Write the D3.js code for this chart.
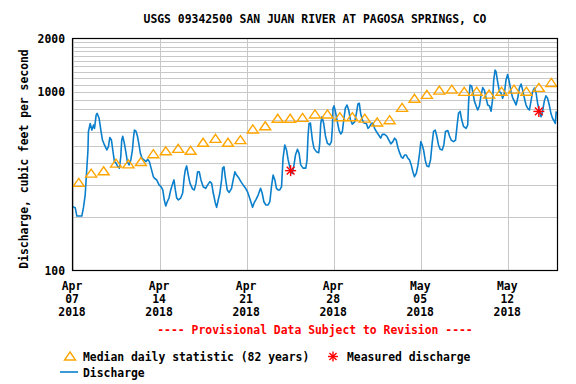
<!DOCTYPE html>
<html>
<head>
<meta charset="utf-8">
<script src="https://cdn.jsdelivr.net/npm/d3@7"></script>
<style>
  body { margin: 0; background: #fff; }
  svg text { font-family: "DejaVu Sans Mono", monospace; font-weight: bold; font-size: 11.4px; fill: #000; }
</style>
</head>
<body>
<div id="chart"></div>
<script>
// days since 2018-04-07 00:00, discharge in cfs
const dischargeReadings = [
  [0.03,228],[0.22,225],[0.35,202],[0.75,202],[0.88,225],[1.02,265],[1.16,382],[1.24,468],[1.28,600],[1.42,667],
  [1.56,613],[1.69,654],[1.77,627],[1.90,744],[1.98,761],[2.14,714],[2.28,613],[2.41,539],[2.57,506],[2.76,474],
  [2.89,495],[3.00,557],[3.13,539],[3.24,474],[3.37,408],[3.51,400],[3.64,382],[3.77,375],[3.88,434],[3.96,539],
  [4.04,566],[4.17,516],[4.31,454],[4.41,408],[4.55,391],[4.69,417],[4.82,474],[4.90,552],[4.98,613],[5.09,607],
  [5.22,568],[5.33,516],[5.46,454],[5.59,426],[5.75,417],[5.91,408],[6.05,420],[6.18,408],[6.32,375],[6.50,336],
  [6.64,327],[6.77,322],[6.96,302],[7.12,295],[7.26,283],[7.38,249],[7.50,230],[7.62,243],[7.76,255],[7.90,283],
  [8.06,308],[8.16,322],[8.27,283],[8.38,255],[8.51,249],[8.70,255],[8.86,272],[8.99,336],[9.07,366],[9.18,386],
  [9.31,343],[9.45,308],[9.66,286],[9.79,283],[9.93,308],[10.06,358],[10.19,358],[10.33,322],[10.51,295],[10.71,289],
  [10.87,302],[11.05,315],[11.19,308],[11.32,272],[11.48,240],[11.59,226],[11.72,249],[11.85,272],[11.99,322],[12.07,375],
  [12.18,382],[12.28,336],[12.44,283],[12.60,274],[12.79,289],[12.92,322],[13.06,358],[13.19,343],[13.38,330],[13.54,315],
  [13.72,302],[13.92,289],[14.08,276],[14.21,259],[14.34,243],[14.48,226],[14.61,240],[14.74,249],[14.93,265],[15.12,289],
  [15.25,272],[15.39,243],[15.55,233],[15.73,233],[15.87,243],[16.00,295],[16.13,343],[16.27,322],[16.40,289],[16.53,283],
  [16.67,283],[16.81,295],[16.93,426],[17.07,506],[17.21,474],[17.34,417],[17.47,382],[17.66,350],[17.79,382],[17.93,444],
  [18.09,478],[18.22,454],[18.35,391],[18.54,375],[18.76,375],[18.86,417],[18.94,568],[19.02,667],[19.13,672],[19.29,539],
  [19.42,484],[19.61,464],[19.80,458],[19.88,516],[19.96,667],[20.06,728],[20.20,667],[20.34,568],[20.50,516],[20.68,506],
  [20.82,528],[20.90,640],[20.95,813],[21.03,838],[21.14,780],[21.27,698],[21.43,613],[21.57,583],[21.70,602],[21.81,698],
  [21.94,813],[22.07,847],[22.21,794],[22.34,705],[22.50,662],[22.69,682],[22.83,761],[22.95,858],[23.06,867],[23.17,761],
  [23.31,698],[23.43,672],[23.63,667],[23.76,627],[23.89,640],[24.03,667],[24.16,672],[24.29,627],[24.43,602],[24.62,575],
  [24.78,552],[24.91,580],[25.10,580],[25.28,566],[25.44,539],[25.60,513],[25.76,528],[25.90,552],[26.03,539],[26.16,491],
  [26.30,458],[26.44,434],[26.56,426],[26.70,444],[26.84,444],[26.97,426],[27.10,417],[27.24,391],[27.37,358],[27.50,336],
  [27.64,350],[27.77,386],[27.91,454],[28.01,528],[28.12,506],[28.23,474],[28.36,417],[28.49,386],[28.65,382],[28.79,417],
  [28.92,516],[29.03,602],[29.17,613],[29.29,568],[29.43,506],[29.57,478],[29.73,474],[29.86,506],[29.99,602],[30.18,610],
  [30.31,570],[30.45,539],[30.64,528],[30.80,539],[30.93,654],[31.04,761],[31.17,780],[31.30,698],[31.44,644],[31.65,627],
  [31.78,654],[31.86,903],[31.97,1096],[32.10,1082],[32.18,1009],[32.32,891],[32.46,836],[32.58,794],[32.72,836],[32.85,963],
  [32.99,1061],[33.12,1027],[33.26,924],[33.39,847],[33.53,836],[33.66,782],[33.79,924],[33.87,1169],[33.98,1330],[34.06,1302],
  [34.19,1139],[34.33,1009],[34.46,988],[34.59,924],[34.73,988],[34.86,1169],[34.99,1256],[35.13,1139],[35.26,1009],[35.39,933],
  [35.53,891],[35.67,847],[35.80,924],[35.93,1055],[36.07,1111],[36.20,1027],[36.34,924],[36.47,847],[36.60,813],[36.74,794],
  [36.87,891],[37.00,1009],[37.14,1055],[37.28,988],[37.40,867],[37.54,780],[37.68,728],[37.80,782],[37.94,891],[38.07,954],
  [38.20,924],[38.34,847],[38.47,761],[38.60,714],[38.74,687],[38.82,667],[38.90,780]
];

// median daily statistic, one per day starting Apr 7
const medianCfs = [308,347,358,395,391,403,446,463,478,466,517,544,517,535,614,640,705,705,713,745,
  745,719,719,706,672,692,811,912,960,1014,1027,998,1000,963,1000,1027,1000,1050,1119];

// measured discharge: [days since start, cfs]
const measured = [[17.54,363],[37.5,780]];

const yTicks = [100, 1000, 2000];
const yGrid = [200,300,400,500,600,700,800,900,1000,1100,1200,1300,1400,1500,1600,1700,1800,1900];
const xTickDays = [0, 7, 14, 21, 28, 35];

const start = Date.UTC(2018, 3, 7);
const toDate = d => new Date(start + d * 864e5);

const W = 576, H = 384;
const margin = { top: 38.5, right: 18.5, bottom: 113.5, left: 72.5 };
const x0 = margin.left, x1 = W - margin.right, y0 = margin.top, y1 = H - margin.bottom;

const svg = d3.select("#chart").append("svg").attr("width", W).attr("height", H);

const xScale = d3.scaleUtc().domain([toDate(0), toDate(39)]).range([x0, x1]);
const yScale = d3.scaleLog().domain([100, 2000]).range([y1, y0]);

// grid
svg.append("g").selectAll("line").data(yGrid).join("line")
  .attr("x1", x0).attr("x2", x1)
  .attr("y1", d => Math.round(yScale(d)) + 0.5).attr("y2", d => Math.round(yScale(d)) + 0.5)
  .attr("stroke", "#c8c8c8").attr("stroke-width", 1);
svg.append("g").selectAll("line").data(xTickDays).join("line")
  .attr("x1", d => Math.round(xScale(toDate(d))) + 0.5).attr("x2", d => Math.round(xScale(toDate(d))) + 0.5)
  .attr("y1", y0).attr("y2", y1)
  .attr("stroke", "#c8c8c8").attr("stroke-width", 1);

svg.append("clipPath").attr("id", "clip").append("rect")
  .attr("x", x0).attr("y", y0).attr("width", x1 - x0).attr("height", y1 - y0);

// discharge line
const line = d3.line().x(d => xScale(toDate(d[0]))).y(d => yScale(d[1]));
svg.append("path").datum(dischargeReadings)
  .attr("clip-path", "url(#clip)")
  .attr("fill", "none").attr("stroke", "#0a7fcc").attr("stroke-width", 1.6)
  .attr("stroke-linejoin", "round").attr("d", line);

// median triangles
const tri = "M0,-5L5.5,3L-5.5,3Z";
svg.append("g").selectAll("path").data(medianCfs).join("path")
  .attr("d", tri)
  .attr("transform", (d, i) => `translate(${xScale(toDate(i + 0.5))},${yScale(d)})`)
  .attr("fill", "none").attr("stroke", "#ffa500").attr("stroke-width", 1.4);

// measured asterisks
function star(g, r) {
  [0, 45, 90, 135].forEach(a => {
    const rad = a * Math.PI / 180;
    g.append("line")
      .attr("x1", -r * Math.cos(rad)).attr("y1", -r * Math.sin(rad))
      .attr("x2", r * Math.cos(rad)).attr("y2", r * Math.sin(rad))
      .attr("stroke", "#ff0000").attr("stroke-width", 1.4);
  });
}
measured.forEach(m => {
  const g = svg.append("g").attr("transform", `translate(${xScale(toDate(m[0]))},${yScale(m[1])})`);
  star(g, 5.5);
});

// frame
svg.append("rect").attr("x", x0).attr("y", y0).attr("width", x1 - x0).attr("height", y1 - y0)
  .attr("fill", "none").attr("stroke", "#000").attr("stroke-width", 1.2);

// y tick labels
svg.append("g").selectAll("text").data(yTicks).join("text")
  .attr("x", 65).attr("y", d => yScale(d) + 4)
  .attr("text-anchor", "end").text(d => d);

// x tick labels
const fmtMon = d3.utcFormat("%b"), fmtDay = d3.utcFormat("%d"), fmtYr = d3.utcFormat("%Y");
const xl = svg.append("g").selectAll("text").data(xTickDays).join("text")
  .attr("text-anchor", "middle")
  .attr("transform", d => `translate(${xScale(toDate(d)) - 0.5},0)`);
xl.append("tspan").attr("x", 0).attr("y", 289.5).text(d => fmtMon(toDate(d)));
xl.append("tspan").attr("x", 0).attr("y", 302.5).text(d => fmtDay(toDate(d)));
xl.append("tspan").attr("x", 0).attr("y", 315.5).text(d => fmtYr(toDate(d)));

// title
svg.append("text").attr("x", (x0 + x1) / 2).attr("y", 23).attr("text-anchor", "middle")
  .text("USGS 09342500 SAN JUAN RIVER AT PAGOSA SPRINGS, CO");

// y axis title
svg.append("text").attr("transform", "translate(28,159) rotate(-90)")
  .attr("text-anchor", "middle").text("Discharge, cubic feet per second");

// provisional note
svg.append("text").attr("x", (x0 + x1) / 2).attr("y", 334).attr("text-anchor", "middle")
  .style("fill", "#ff0000").text("---- Provisional Data Subject to Revision ----");

// legend
svg.append("path").attr("d", tri).attr("transform", "translate(70,357)")
  .attr("fill", "none").attr("stroke", "#ffa500").attr("stroke-width", 1.4);
svg.append("text").attr("x", 83).attr("y", 361).text("Median daily statistic (82 years)");
star(svg.append("g").attr("transform", "translate(333,356.5)"), 5);
svg.append("text").attr("x", 347).attr("y", 361).text("Measured discharge");
svg.append("line").attr("x1", 60).attr("x2", 78).attr("y1", 372).attr("y2", 372)
  .attr("stroke", "#0a7fcc").attr("stroke-width", 1.6);
svg.append("text").attr("x", 83).attr("y", 377).text("Discharge");
</script>
</body>
</html>
